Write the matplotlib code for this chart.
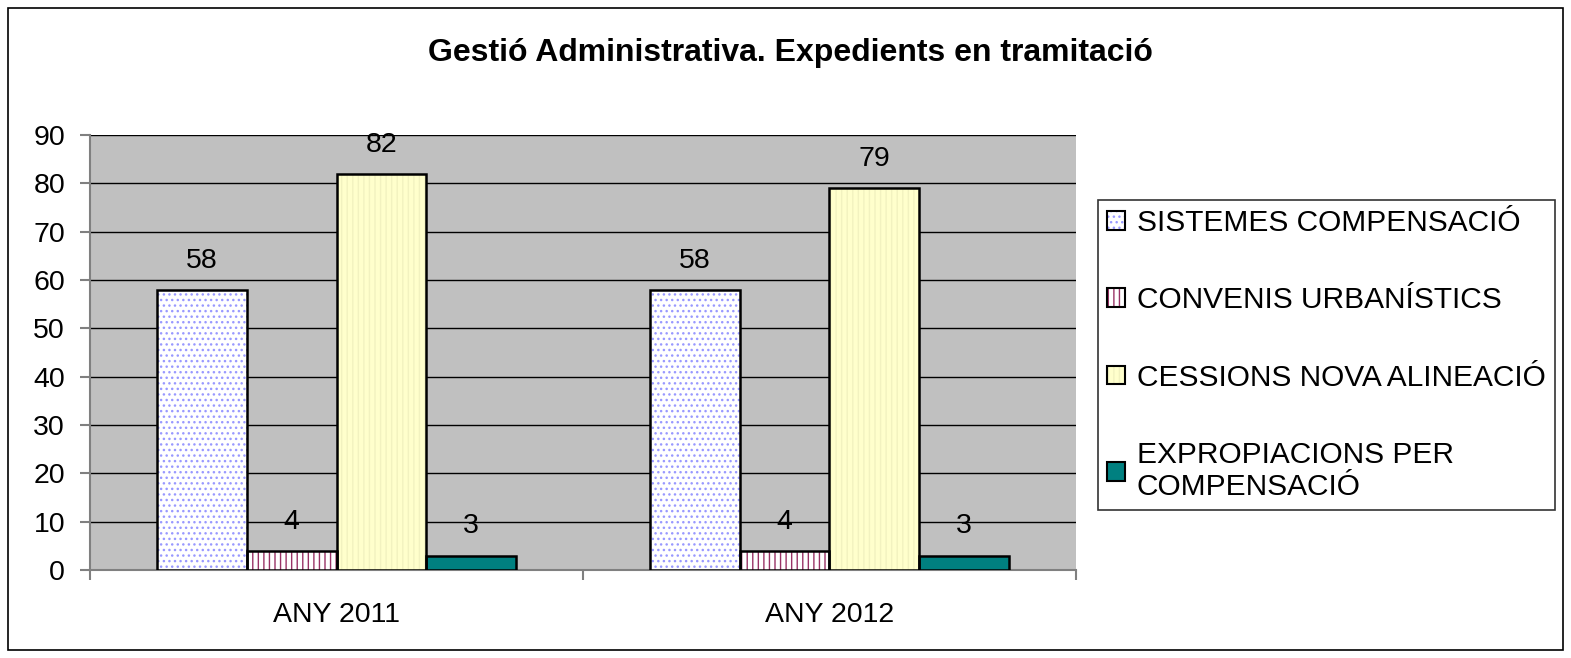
import matplotlib
matplotlib.use("Agg")
import matplotlib.pyplot as plt
from matplotlib.patches import Rectangle, Patch
from matplotlib.legend_handler import HandlerTuple
import numpy as np

plt.rcParams['font.family'] = ['Liberation Sans', 'DejaVu Sans']
plt.rcParams['hatch.linewidth'] = 1.0

# data
years = ['ANY 2011', 'ANY 2012']
series = ['SISTEMES COMPENSACIÓ', 'CONVENIS URBANÍSTICS',
          'CESSIONS NOVA ALINEACIÓ', 'EXPROPIACIONS PER\nCOMPENSACIÓ']
sistemes = [58, 58]
convenis = [4, 4]
cessions = [82, 79]
expropiacions = [3, 3]
values = [sistemes, convenis, cessions, expropiacions]

# styles: (face, hatch, hatch colour)
styles = [('white', '...', '#9999FF'),
          ('white', '|||', '#993366'),
          ('#FFFFCC', '|||', '#F2F2C0'),
          ('#008080', None, '#008080')]

fig = plt.figure(figsize=(15.71, 6.58), dpi=100)
ax = fig.add_axes([0.0573, 0.1337, 0.6276, 0.6611])
ax.set_facecolor('#C0C0C0')

x = np.arange(len(years))
w = 0.1816
handles = []
for i, (vals, (face, hatch, hc)) in enumerate(zip(values, styles)):
    pos = x + (i - 1.5) * w
    ax.bar(pos, vals, w, color=face, hatch=hatch, edgecolor=hc, linewidth=0, zorder=3)
    ax.bar(pos, vals, w, fill=False, edgecolor='black', linewidth=1.8, zorder=4)
    for p, v in zip(pos, vals):
        ax.annotate(str(v), (p, v), xytext=(0, 21), textcoords='offset points',
                    ha='center', va='center', fontsize=20.5)
    h1 = Patch(facecolor=face, hatch=hatch, edgecolor=hc, linewidth=0)
    h2 = Patch(fill=False, edgecolor='black', linewidth=1.5)
    handles.append((h1, h2))

ax.set_xlim(-0.5, 1.5)
ax.set_ylim(0, 90)
ax.set_yticks(range(0, 91, 10))
ax.yaxis.grid(True, color='black', linewidth=1)
ax.set_axisbelow(True)
ax.tick_params(axis='y', labelsize=20.5, length=7, color='#808080', width=1.5, pad=11)

ax.set_xticks([-0.5, 0.5, 1.5])
ax.set_xticklabels([])
ax.set_xticks(x, minor=True)
ax.set_xticklabels(years, minor=True)
ax.tick_params(axis='x', which='major', length=7, color='#808080', width=1.5)
ax.tick_params(axis='x', which='minor', length=0, labelsize=20.5, pad=23)

for s in ['top', 'right']:
    ax.spines[s].set_visible(False)
for s in ['left', 'bottom']:
    ax.spines[s].set_color('#808080')
    ax.spines[s].set_linewidth(1.5)

fig.text(0.503, 0.919, 'Gestió Administrativa. Expedients en tramitació',
         ha='center', va='center', fontsize=23, fontweight='bold')

leg = fig.legend(handles, series, handler_map={tuple: HandlerTuple(ndivide=1)},
                 loc='upper left', bbox_to_anchor=(0.699, 0.696), fontsize=21.5,
                 frameon=True, fancybox=False, edgecolor='black', borderaxespad=0,
                 handlelength=0.6, handleheight=0.6, handletextpad=0.4,
                 labelspacing=1.65, borderpad=0.3)
leg.get_frame().set_linewidth(1.2)

fig.patches.append(Rectangle((0.005, 0.012), 0.99, 0.976, transform=fig.transFigure,
                             fill=False, edgecolor='black', linewidth=1.2))

fig.savefig('out.png', dpi=100)
